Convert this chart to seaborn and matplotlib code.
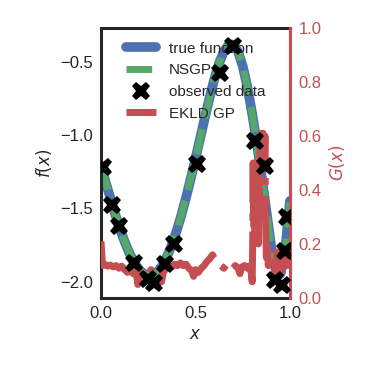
import matplotlib
matplotlib.use("Agg")
import matplotlib.pyplot as plt
import seaborn as sns
from matplotlib.lines import Line2D

# ---- data ----
x_grid = [0.000, 0.025, 0.050, 0.075, 0.100, 0.125, 0.150, 0.175, 0.200, 0.225,
          0.250, 0.275, 0.300, 0.325, 0.350, 0.375, 0.400, 0.425, 0.450, 0.475,
          0.500, 0.525, 0.550, 0.575, 0.600, 0.625, 0.650, 0.675, 0.700, 0.725,
          0.750, 0.775, 0.800, 0.825, 0.850, 0.875, 0.900, 0.925, 0.9375, 0.950,
          0.975, 1.000]
true_f = [-1.210, -1.323, -1.432, -1.540, -1.638, -1.727, -1.804, -1.867, -1.915, -1.946,
          -1.959, -1.954, -1.931, -1.888, -1.826, -1.748, -1.654, -1.546, -1.426, -1.296,
          -1.160, -1.019, -0.879, -0.742, -0.616, -0.510, -0.430, -0.386, -0.384, -0.431,
          -0.531, -0.676, -0.856, -1.059, -1.281, -1.518, -1.755, -1.925, -1.958, -1.946,
          -1.779, -1.449]
nsgp_f = [-1.205, -1.320, -1.430, -1.537, -1.636, -1.726, -1.803, -1.866, -1.914, -1.945,
          -1.958, -1.953, -1.930, -1.887, -1.825, -1.747, -1.653, -1.545, -1.425, -1.295,
          -1.160, -1.020, -0.880, -0.743, -0.617, -0.511, -0.431, -0.387, -0.385, -0.432,
          -0.532, -0.677, -0.857, -1.060, -1.282, -1.519, -1.756, -1.926, -1.958, -1.946,
          -1.779, -1.452]
obs_x = [0.010, 0.060, 0.095, 0.175, 0.249, 0.280, 0.339, 0.386, 0.506, 0.630,
         0.700, 0.815, 0.868, 0.921, 0.956, 0.975, 0.984]
obs_y = [-1.22, -1.48, -1.62, -1.87, -1.98, -2.01, -1.88, -1.74, -1.20, -0.575,
         -0.39, -1.04, -1.21, -1.99, -2.02, -1.79, -1.56]
g_x = [0.000, 0.008, 0.020, 0.035, 0.050, 0.065, 0.080, 0.095, 0.110, 0.125,
       0.140, 0.155, 0.170, 0.185, 0.195, 0.205, 0.220, 0.235, 0.250, 0.265,
       0.280, 0.295, 0.310, 0.320, 0.330, 0.345, 0.360, 0.375, 0.390, 0.405,
       0.420, 0.435, 0.450, 0.465, 0.480, 0.490, 0.500, 0.515, 0.530, 0.545,
       0.560, 0.575, 0.590, 0.605, 0.620, 0.635, 0.650, 0.665, 0.680, 0.695,
       0.710, 0.725, 0.735, 0.745, 0.760, 0.775, 0.790, 0.800, 0.8025, 0.805,
       0.8075, 0.810, 0.8125, 0.815, 0.8175, 0.820, 0.8225, 0.825, 0.8275, 0.830,
       0.8325, 0.835, 0.8375, 0.840, 0.8425, 0.845, 0.8475, 0.850, 0.8525, 0.855,
       0.8575, 0.860, 0.8625, 0.865, 0.8675, 0.870, 0.875, 0.880, 0.885, 0.890,
       0.900, 0.910, 0.920, 0.930, 0.940, 0.950, 0.960, 0.970, 0.980, 0.990,
       1.000]
g_val = [0.21, 0.12, 0.125, 0.118, 0.122, 0.115, 0.12, 0.11, 0.118, 0.105,
         0.095, 0.108, 0.09, 0.10, 0.05, 0.095, 0.085, 0.10, 0.09, 0.105,
         0.095, 0.10, 0.08, 0.06, 0.095, 0.11, 0.12, 0.115, 0.125, 0.12,
         0.13, 0.12, 0.125, 0.11, 0.10, 0.08, 0.105, 0.095, 0.11, 0.12,
         0.135, 0.145, 0.16, 0.14, 0.13, 0.12, 0.11, 0.125, 0.115, 0.105,
         0.12, 0.11, 0.09, 0.115, 0.12, 0.11, 0.12, 0.06, 0.20, 0.50,
         0.22, 0.48, 0.22, 0.50, 0.25, 0.50, 0.21, 0.45, 0.24, 0.50,
         0.20, 0.50, 0.30, 0.50, 0.60, 0.49, 0.61, 0.50, 0.60, 0.49,
         0.61, 0.50, 0.60, 0.49, 0.60, 0.30, 0.15, 0.19, 0.12, 0.16,
         0.11, 0.14, 0.10, 0.17, 0.12, 0.09, 0.18, 0.12, 0.16, 0.10,
         0.15]

left_ticks = [-2.0, -1.5, -1.0, -0.5]
right_ticks = [0.0, 0.2, 0.4, 0.6, 0.8, 1.0]
x_ticks = [0.0, 0.5, 1.0]

# ---- style ----
sns.set_style("white")
plt.rcParams['font.family'] = ['Liberation Sans', 'DejaVu Sans']
pal = sns.color_palette("deep")
blue, green, red = pal[0], pal[2], pal[3]
red_style = (0, (14, 1.6, 1, 1.6))

fig = plt.figure(figsize=(3.73, 3.73), dpi=100)
ax = fig.add_axes([0.2708, 0.2011, 0.5067, 0.7239])
ax2 = ax.twinx()

sns.lineplot(x=x_grid, y=true_f, ax=ax, color=blue, lw=7, legend=False)
sns.lineplot(x=x_grid, y=nsgp_f, ax=ax, color=green, lw=5, linestyle='--', legend=False)
sns.lineplot(x=g_x, y=g_val, ax=ax2, color=red, lw=5, linestyle=red_style, legend=False)
ax2.plot(obs_x, obs_y, linestyle='none', marker='X', color='black', ms=13.5,
         mew=0, transform=ax.transData, zorder=5)

ax.set_xlim(0, 1)
ax.set_ylim(-2.111, -0.270)
ax2.set_ylim(0, 1)
ax.set_xticks(x_ticks)
ax.set_yticks(left_ticks)
ax2.set_yticks(right_ticks)
ax.tick_params(labelsize=12, length=0, pad=6)
ax2.tick_params(labelsize=12, length=0, pad=6, colors=red)

ax.set_xlabel('$x$', fontsize=12)
ax.set_ylabel('$f(x)$', fontsize=12)
ax2.set_ylabel('$G(x)$', fontsize=12, color=red)

for sp in ax.spines.values():
    sp.set_linewidth(2.2)
    sp.set_color('.15')
for name, sp in ax2.spines.items():
    if name == 'right':
        sp.set_color(red)
        sp.set_linewidth(2.2)
    else:
        sp.set_visible(False)

handles = [
    Line2D([], [], color=blue, lw=7),
    Line2D([], [], color=green, lw=5, linestyle='--'),
    Line2D([], [], color='black', marker='X', linestyle='none', ms=13.5, mew=0),
    Line2D([], [], color=red, lw=5, linestyle=red_style),
]
labels = ['true function', 'NSGP', 'observed data', 'EKLD GP']
ax.legend(handles, labels, loc='upper center', fontsize=11, frameon=False)

fig.savefig('out.png', dpi=100)
